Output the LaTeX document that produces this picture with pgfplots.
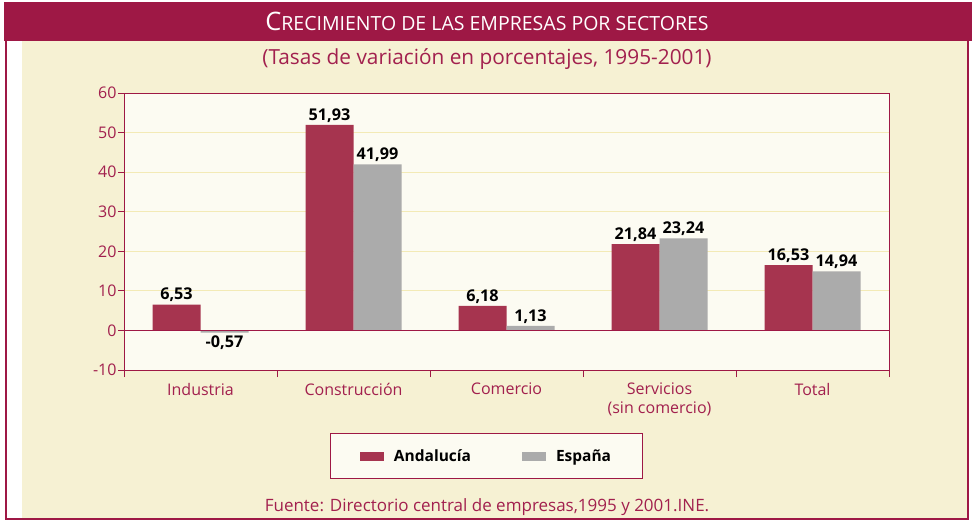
\documentclass[border=0pt]{standalone}
\usepackage{fontspec}
\setmainfont{Open Sans}
\usepackage{pgfplots}
\pgfplotsset{compat=1.18}
\definecolor{maroon}{RGB}{158,24,69}
\definecolor{andal}{RGB}{166,52,79}
\definecolor{espgrey}{RGB}{171,171,171}
\definecolor{cream}{RGB}{246,241,211}
\definecolor{plotbg}{RGB}{252,251,242}
\definecolor{gridc}{RGB}{243,234,182}
\definecolor{txtm}{RGB}{162,32,78}
\begin{document}
\begin{tikzpicture}[x=1pt,y=1pt]
\useasboundingbox (0,0) rectangle (974,525);
\fill[white] (0,0) rectangle (974,525);
\fill[cream] (22,6) rectangle (968,484);
\draw[maroon, line width=2pt] (6,484) -- (6,6) -- (968,6) -- (968,484);
\fill[maroon] (4,484) rectangle (972,523);
\node[white, font=\fontsize{19.5}{22}\selectfont] at (487,503.5)
  {{\fontsize{25.4}{27}\selectfont C}RECIMIENTO DE LAS EMPRESAS POR SECTORES};
\node[txtm, font=\fontsize{20.8}{23}\selectfont] at (487,465.5)
  {(Tasas de variación en porcentajes, 1995-2001)};
\node[txtm, font=\fontsize{17}{19}\selectfont] at (487,18)
  {Fuente: Directorio central de empresas,1995 y 2001.INE.};
\begin{axis}[
  at={(124pt,155pt)}, anchor=south west,
  scale only axis, width=765pt, height=277pt,
  xmin=-0.5, xmax=4.5, ymin=-10, ymax=60,
  ybar=0pt, bar width=48pt,
  axis background/.style={fill=plotbg},
  axis line style={maroon, line width=0.8pt},
  tick pos=left, tick align=outside,
  ytick={-10,0,10,20,30,40,50,60},
  major tick length=6pt,
  ymajorgrids, grid style={gridc, line width=0.8pt},
  y tick style={maroon, line width=0.8pt},
  xtick={0,1,2,3,4},
  xticklabels={Industria,Construcción,Comercio,{Servicios\\(sin comercio)},Total},
  major x tick style={draw=none},
  minor xtick={-0.5,0.5,1.5,2.5,3.5,4.5},
  minor x tick style={maroon, line width=0.8pt},
  minor tick length=7pt,
  xticklabel style={txtm, font=\fontsize{16}{19}\selectfont, align=center, anchor=north, yshift=-3.5pt},
  yticklabel style={txtm, font=\fontsize{16}{18}\selectfont, xshift=2pt},
  /pgf/number format/assume math mode=true,
  nodes near coords={\pgfmathprintnumber[fixed, fixed zerofill, precision=2, use comma, assume math mode=true]{\pgfplotspointmeta}},
  nodes near coords style={black, font=\bfseries\fontsize{16.2}{18}\selectfont, inner sep=2.5pt},
  legend columns=2,
  legend style={at={(0.4739,-0.3105)}, anchor=center, draw=maroon, line width=0.8pt, fill=plotbg,
    font=\bfseries\fontsize{15.5}{17}\selectfont, inner xsep=29.5pt, inner ysep=13.5pt,
    /tikz/every even column/.append style={column sep=49pt}},
  legend image code/.code={\fill[#1, draw=none] (0pt,-4.5pt) rectangle (24pt,4.5pt); \path (32pt,0pt);},
]
\addplot[fill=andal, draw=none] coordinates {(0,6.53) (1,51.93) (2,6.18) (3,21.84) (4,16.53)};
\addplot[fill=espgrey, draw=none] coordinates {(0,-0.57) (1,41.99) (2,1.13) (3,23.24) (4,14.94)};
\addplot[maroon, line width=0.8pt, forget plot, sharp plot, nodes near coords={}] coordinates {(-0.5,0) (4.5,0)};
\legend{Andalucía,España}
\end{axis}
\end{tikzpicture}
\end{document}
